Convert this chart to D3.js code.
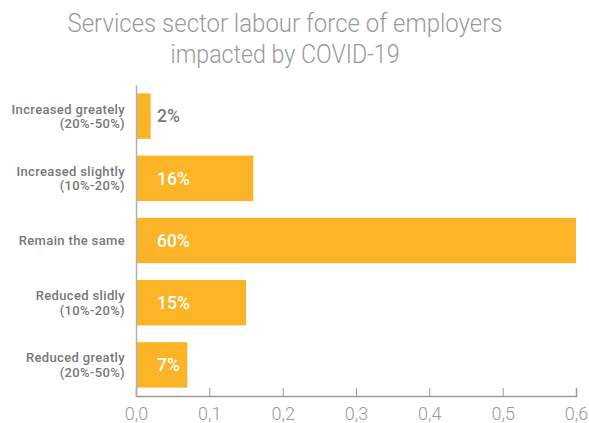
<!DOCTYPE html>
<html>
<head>
<meta charset="utf-8">
<script src="https://cdn.jsdelivr.net/npm/d3@7"></script>
<style>
  html, body { margin: 0; padding: 0; background: #fff; }
  svg { display: block; }
</style>
</head>
<body>
<svg id="chart" width="589" height="423"></svg>
<script>
// Employer responses: change in services sector labour force
const categories = [
  ["Increased greately", "(20%-50%)"],
  ["Increased slightly", "(10%-20%)"],
  ["Remain the same"],
  ["Reduced slidly", "(10%-20%)"],
  ["Reduced greatly", "(20%-50%)"]
];
const values = [0.02, 0.16, 0.60, 0.15, 0.07];
const valueLabels = ["2%", "16%", "60%", "15%", "7%"];
const xTicks = [0, 0.1, 0.2, 0.3, 0.4, 0.5, 0.6];
const titleLines = ["Services sector labour force of employers", "impacted by COVID-19"];

const svg = d3.select("#chart");
const plotLeft = 136, plotRight = 576, plotTop = 85, plotBottom = 396;

const x = d3.scaleLinear().domain([0, 0.6]).range([plotLeft, plotRight]);
const y = d3.scaleBand()
  .domain(d3.range(categories.length))
  .range([plotTop, plotBottom])
  .paddingInner(0.27)
  .paddingOuter(0.135);

// Title: narrow light face, two centred lines
const titleWidths = [435, 229];
const titleX = 285;
svg.append("g")
  .selectAll("text")
  .data(titleLines)
  .join("text")
  .attr("x", titleX)
  .attr("y", (d, i) => 32 + i * 31)
  .attr("text-anchor", "middle")
  .attr("font-family", "Roboto, sans-serif")
  .attr("font-weight", 300)
  .attr("font-size", 25)
  .attr("fill", "#9a9a9a")
  .attr("textLength", (d, i) => titleWidths[i])
  .attr("lengthAdjust", "spacingAndGlyphs")
  .text(d => d);

// Bars
svg.append("g")
  .selectAll("rect")
  .data(values)
  .join("rect")
  .attr("x", x(0))
  .attr("y", (d, i) => y(i))
  .attr("width", d => x(d) - x(0))
  .attr("height", y.bandwidth())
  .attr("fill", "#fbb426");

// Value labels
svg.append("g")
  .selectAll("text")
  .data(values)
  .join("text")
  .attr("x", x(0) + 21)
  .attr("y", (d, i) => y(i) + y.bandwidth() / 2)
  .attr("dy", "0.36em")
  .attr("font-family", "Roboto, sans-serif")
  .attr("font-weight", 500)
  .attr("font-size", 17.5)
  .attr("fill", d => (x(d) - x(0)) < 40 ? "#7a7a7a" : "#ffffff")
  .text((d, i) => valueLabels[i]);

// X axis
const xAxis = d3.axisBottom(x)
  .tickValues(xTicks)
  .tickSize(-8)
  .tickPadding(11)
  .tickFormat(d => d3.format(".1f")(d).replace(".", ","));

const gx = svg.append("g")
  .attr("transform", `translate(0,${plotBottom})`)
  .call(xAxis);
gx.select(".domain").attr("stroke", "#9a9a9a").attr("stroke-width", 1.5);
gx.selectAll(".tick line").attr("stroke", "#9a9a9a").attr("stroke-width", 1);
gx.selectAll(".tick text")
  .attr("font-family", "Roboto, sans-serif")
  .attr("font-weight", 300)
  .attr("font-size", 18)
  .attr("fill", "#9a9a9a");

// Y axis line
const yAxis = d3.axisLeft(y).tickSize(0).tickFormat("");
const gy = svg.append("g")
  .attr("transform", `translate(${plotLeft},0)`)
  .call(yAxis);
gy.select(".domain").attr("stroke", "#b0b0b0").attr("stroke-width", 1.5);

// Category labels
const catG = svg.append("g")
  .selectAll("text")
  .data(categories)
  .join("text")
  .attr("x", 125)
  .attr("y", (d, i) => y(i) + y.bandwidth() / 2)
  .attr("text-anchor", "end")
  .attr("font-family", "Roboto, sans-serif")
  .attr("font-weight", 500)
  .attr("font-size", 13)
  .attr("letter-spacing", 0.35)
  .attr("fill", "#777777");

catG.selectAll("tspan")
  .data(d => d.map((t, j) => ({ t, j, n: d.length })))
  .join("tspan")
  .attr("x", 125)
  .attr("dy", d => d.j === 0 ? `${0.36 - (d.n - 1) * 0.56}em` : "1.12em")
  .text(d => d.t);
</script>
</body>
</html>
